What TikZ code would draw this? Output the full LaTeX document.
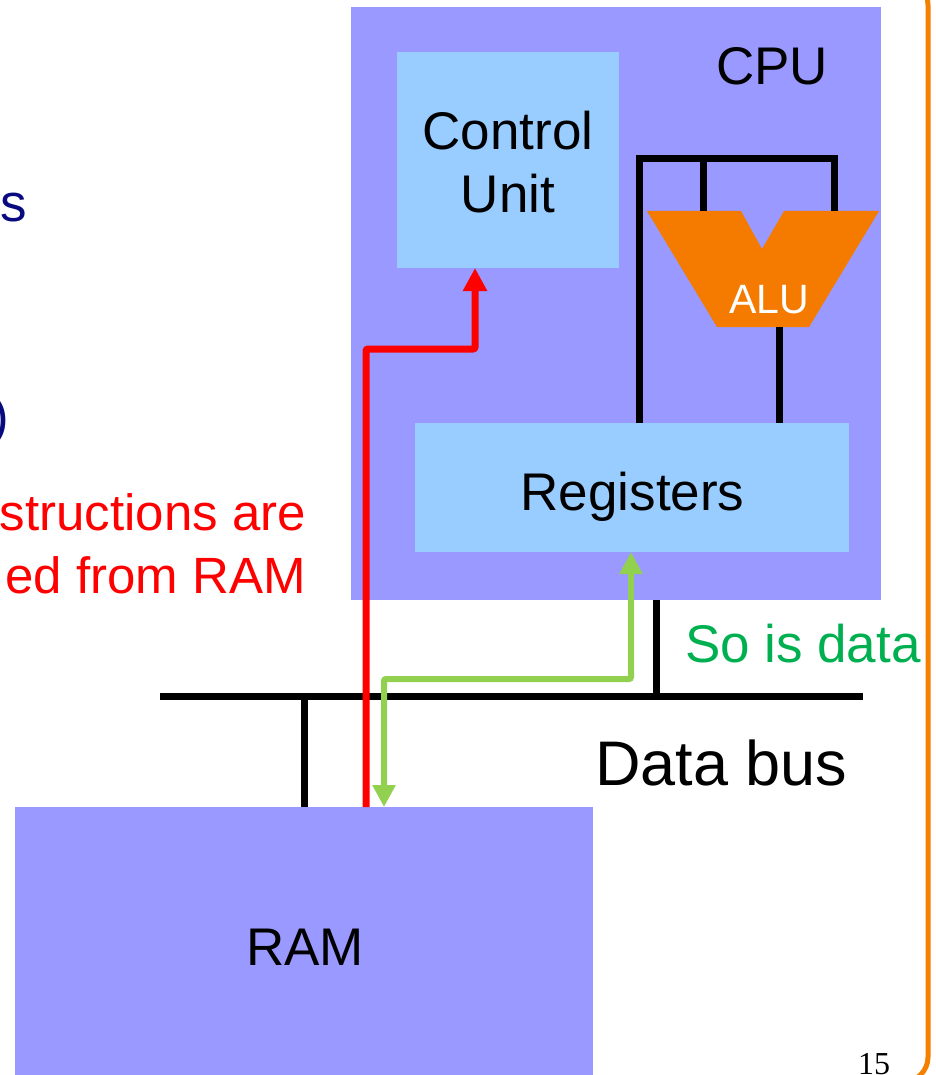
\documentclass[tikz,border=0pt]{standalone}
\usepackage{fontspec}
\setmainfont{Liberation Sans}
\newfontfamily\serifnum{Liberation Serif}
\usetikzlibrary{arrows.meta}
\definecolor{cpufill}{RGB}{153,153,255}
\definecolor{unitfill}{RGB}{153,204,255}
\definecolor{aluorange}{RGB}{244,123,0}
\definecolor{frameorange}{RGB}{245,128,0}
\definecolor{arrowred}{RGB}{255,0,0}
\definecolor{arrowgreen}{RGB}{146,208,80}
\definecolor{textgreen}{RGB}{0,176,80}
\definecolor{navy}{RGB}{10,10,128}
\tikzset{
  box/.style={inner sep=0pt, outer sep=0pt, draw=none},
  wire/.style={line width=7pt, black, line join=miter},
  redpath/.style={line width=7pt, arrowred, rounded corners=2pt, -{Triangle[width=23pt,length=23pt]}},
  greenpath/.style={line width=6pt, arrowgreen, rounded corners=2pt, {Triangle[width=22pt,length=22pt]}-{Triangle[width=22pt,length=22pt]}},
  lbl/.style={inner sep=0pt, outer sep=0pt, font=\fontsize{53}{63}\selectfont},
}
\begin{document}
\begin{tikzpicture}[x=1pt,y=-1pt]
\useasboundingbox (0,0) rectangle (935,1075);
\clip (0,0) rectangle (935,1075);
% boxes
\node[box, fill=cpufill, minimum width=530pt, minimum height=593pt] (cpu) at (616,303.5) {};
\node[box, fill=unitfill, minimum width=222pt, minimum height=216pt] (cu) at (508,160) {};
\node[box, fill=unitfill, minimum width=434pt, minimum height=129pt] (reg) at (632,487.5) {};
\node[box, fill=cpufill, minimum width=578pt, minimum height=290pt] (ram) at (304,952) {};
% ALU
\fill[aluorange] (647,211) -- (741,211) -- (762,249) -- (784,211) -- (879,211) -- (809,327) -- (717,327) -- cycle;
\coordinate (aluin1) at (703,211);
\coordinate (aluin2) at (834,211);
\coordinate (aluout) at (779,327);
\coordinate (wtop) at (639,159);
% wires inside CPU
\draw[wire] (wtop |- reg.north) -- (wtop) -| (aluin2);
\draw[wire] (aluin1 |- wtop) -- (aluin1);
\draw[wire] (aluout) -- (aluout |- reg.north);
% data bus
\coordinate (busL) at (160,696);
\coordinate (busR) at (863,696);
\coordinate (tapram) at (304,696);
\coordinate (tapcpu) at (656,696);
\draw[wire] (busL) -- (busR);
\draw[wire] (ram.north -| tapram) -- (tapram);
\draw[wire] (cpu.south -| tapcpu) -- (tapcpu);
% red instruction path
\coordinate (r1) at (366,349);
\coordinate (r2) at (475,349);
\draw[redpath] (ram.north -| r1) -- (r1) -- (r2) -- (r2 |- cu.south);
% green data path
\coordinate (g1) at (631,679);
\coordinate (g2) at (384,679);
\draw[greenpath] (reg.south -| g1) -- (g1) -- (g2) -- (g2 |- ram.north);
% labels
\node[lbl, anchor=base west] (cpulbl) at (716,85) {CPU};
\node[lbl, align=center] (culbl) at (508,162) {Control\\Unit};
\node[lbl, anchor=base] (reglbl) at (632.5,510) {Registers};
\node[lbl, anchor=base] (ramlbl) at (305,965) {RAM};
\node[lbl, anchor=base west, font=\fontsize{63}{70}\selectfont] (buslbl) at (595,785) {Data bus};
\node[lbl, anchor=base west, text=textgreen] (datalbl) at (685,662) {So is data};
\node[lbl, anchor=base, text=white, font=\fontsize{41}{48}\selectfont] (alulbl) at (769,313) {ALU};
\node[lbl, anchor=base east, text=arrowred, font=\fontsize{51}{58}\selectfont] (instr1) at (306,530) {structions are};
\node[lbl, anchor=base east, text=arrowred, font=\fontsize{51}{58}\selectfont] (instr2) at (306,593) {ed from RAM};
\node[lbl, anchor=base east, text=navy] (navys) at (27,222) {s};
\node[lbl, anchor=base east, text=navy] (navyp) at (9,434) {)};
\node[inner sep=0pt, anchor=base, font=\serifnum\fontsize{32}{36}\selectfont] (pagenum) at (874,1074) {15};
% orange frame edge
\draw[frameorange, line width=5pt, rounded corners=25pt] (-100,-20) rectangle (928,1082);
\end{tikzpicture}
\end{document}
